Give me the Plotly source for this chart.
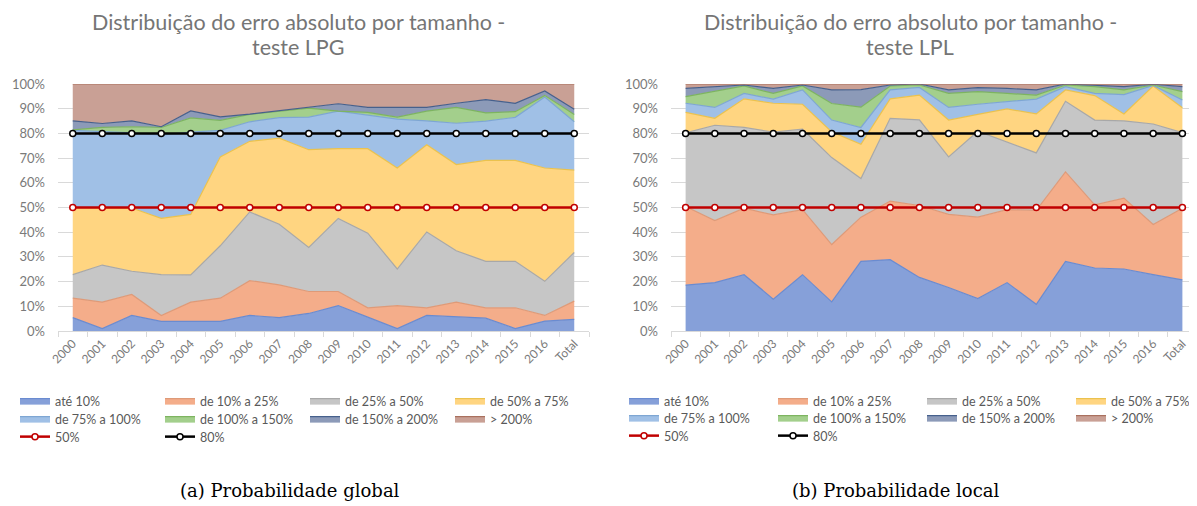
import plotly.graph_objects as go

# categorias
anos = ['2000', '2001', '2002', '2003', '2004', '2005', '2006', '2007', '2008',
        '2009', '2010', '2011', '2012', '2013', '2014', '2015', '2016', 'Total']

faixas = ['até 10%', 'de 10% a 25%', 'de 25% a 50%', 'de 50% a 75%',
          'de 75% a 100%', 'de 100% a 150%', 'de 150% a 200%', '> 200%']

# teste LPG (probabilidade global), % por faixa
lpg_ate10 = [5.4, 1.0, 6.3, 3.9, 3.9, 3.9, 6.3, 5.4, 7.1, 10.3, 5.6, 1.0, 6.3, 5.6, 5.2, 1.0, 4.0, 4.7]
lpg_10a25 = [7.9, 10.7, 8.5, 2.4, 7.8, 9.4, 14.1, 13.3, 8.9, 5.7, 3.8, 9.3, 3.1, 6.1, 4.2, 8.4, 2.3, 7.4]
lpg_25a50 = [9.5, 15.0, 9.4, 16.5, 11.0, 21.2, 27.8, 24.5, 17.8, 29.6, 30.2, 14.8, 30.7, 20.8, 18.8, 18.8, 13.8, 19.7]
lpg_50a75 = [27.2, 23.3, 25.6, 22.8, 24.5, 36.0, 28.6, 34.9, 39.6, 28.2, 34.2, 40.9, 35.3, 34.9, 40.9, 40.9, 45.9, 33.3]
lpg_75a100 = [31.2, 30.7, 30.4, 33.7, 33.3, 10.7, 7.9, 8.3, 13.2, 15.2, 13.7, 19.8, 9.7, 16.7, 15.9, 17.4, 28.7, 19.6]
lpg_100a150 = [0.2, 1.7, 2.5, 3.1, 5.8, 4.1, 3.0, 2.4, 3.6, 0.0, 1.0, 0.8, 3.9, 6.4, 3.3, 2.3, 0.7, 3.0]
lpg_150a200 = [3.7, 1.6, 2.4, 0.3, 2.8, 1.4, 0.1, 0.4, 0.3, 3.0, 2.0, 3.9, 1.5, 1.7, 5.4, 3.4, 1.8, 2.1]
lpg_mais200 = [14.9, 16.0, 14.9, 17.3, 10.9, 13.3, 12.2, 10.8, 9.5, 8.0, 9.5, 9.5, 9.5, 7.8, 6.3, 7.8, 2.8, 10.2]

# teste LPL (probabilidade local), % por faixa
lpl_ate10 = [18.6, 19.6, 22.8, 12.9, 22.8, 11.8, 28.2, 28.9, 21.7, 17.6, 13.1, 19.6, 10.8, 28.2, 25.5, 25.1, 22.8, 20.7]
lpl_10a25 = [31.8, 25.1, 26.9, 34.1, 26.3, 23.2, 17.9, 23.7, 29.1, 29.6, 33.0, 29.5, 38.0, 36.2, 25.6, 28.7, 20.3, 29.0]
lpl_25a50 = [29.8, 38.6, 32.7, 33.5, 32.6, 35.2, 15.6, 33.5, 34.7, 23.3, 34.8, 27.5, 23.3, 28.6, 34.3, 31.3, 40.7, 30.6]
lpl_50a75 = [8.3, 2.8, 11.6, 11.7, 10.1, 10.4, 13.9, 7.9, 10.0, 14.9, 6.8, 13.3, 15.8, 4.6, 9.9, 2.8, 15.4, 10.1]
lpl_75a100 = [3.7, 4.4, 2.2, 1.7, 5.8, 4.8, 6.8, 3.6, 3.1, 5.1, 4.1, 2.9, 6.0, 1.3, 0.9, 7.8, 0.2, 3.1]
lpl_100a150 = [2.7, 6.4, 3.0, 2.3, 1.6, 6.7, 8.2, 1.6, 1.0, 5.7, 5.1, 3.4, 1.6, 0.7, 2.7, 1.9, 0.2, 3.4]
lpl_150a200 = [3.3, 2.0, 0.4, 2.0, 0.4, 5.5, 7.1, 0.4, 0.4, 1.4, 1.6, 2.0, 2.1, 0.4, 0.7, 1.3, 0.3, 2.0]
lpl_mais200 = [1.8, 1.1, 0.4, 1.8, 0.4, 2.4, 2.3, 0.4, 0.0, 2.4, 1.5, 1.8, 2.4, 0.0, 0.4, 1.1, 0.1, 1.1]

# linhas de referencia
linha50 = [50] * len(anos)
linha80 = [80] * len(anos)

cores = ['#86A0D9', '#F4AD8A', '#C6C6C6', '#FFD581', '#A0C0E6', '#A3CF8C', '#8C9AB8', '#C9A095']
bordas = ['#6A8BD0', '#DE9A78', '#A8A8A8', '#EBC24E', '#7EA6D3', '#7DB460', '#46608C', '#A9705E']

lpg = [lpg_ate10, lpg_10a25, lpg_25a50, lpg_50a75, lpg_75a100, lpg_100a150, lpg_150a200, lpg_mais200]
lpl = [lpl_ate10, lpl_10a25, lpl_25a50, lpl_50a75, lpl_75a100, lpl_100a150, lpl_150a200, lpl_mais200]

FONTE = 'Lato'
CINZA = '#7A7A7A'

# a pagina tem margem de 8px no body: tamanho da figura e coordenadas de tela
W, H = 1189, 498
OFF = 8


def px(xs):
    return (xs - OFF) / W


def py(ys):
    return 1 - (ys - OFF) / H


fig = go.Figure()


def add_painel(fig, dados, xa, ya, grupo, legs):
    for k, serie in enumerate(dados):
        fig.add_trace(go.Scatter(
            x=anos, y=serie, name=faixas[k], mode='lines', stackgroup=grupo,
            line=dict(color=bordas[k], width=1.2), fillcolor=cores[k],
            xaxis=xa, yaxis=ya, legend=legs[k // 4]))
    fig.add_trace(go.Scatter(
        x=anos, y=linha50, name='50%', mode='lines+markers',
        line=dict(color='#C00000', width=2.5),
        marker=dict(symbol='circle', size=6, color='white', line=dict(color='#C00000', width=1.5)),
        xaxis=xa, yaxis=ya, legend=legs[2]))
    fig.add_trace(go.Scatter(
        x=anos, y=linha80, name='80%', mode='lines+markers',
        line=dict(color='black', width=2.5),
        marker=dict(symbol='circle', size=6, color='white', line=dict(color='black', width=1.5)),
        xaxis=xa, yaxis=ya, legend=legs[2]))


add_painel(fig, lpg, 'x', 'y', 'lpg', ['legend', 'legend2', 'legend3'])
add_painel(fig, lpl, 'x2', 'y2', 'lpl', ['legend4', 'legend5', 'legend6'])

ydom = [py(331), py(84)]

eixo_x = dict(type='category', range=[-0.5, 17.5], showgrid=False, showline=True,
              linecolor='#D9D9D9', ticks='outside', tickson='boundaries', ticklen=5,
              tickcolor='#D9D9D9', tickangle=-45, automargin=False,
              tickfont=dict(family=FONTE, size=12, color=CINZA))
eixo_y = dict(range=[0, 100], dtick=10, ticksuffix='%', gridcolor='#D9D9D9', showline=False,
              zeroline=False, ticklabelstandoff=12, automargin=False,
              tickfont=dict(family=FONTE, size=13, color=CINZA))


def leg(x, y, largura):
    return dict(orientation='h', x=x, y=y, xref='container', yref='container',
                xanchor='left', yanchor='middle',
                entrywidth=largura, entrywidthmode='pixels', itemwidth=30,
                font=dict(family=FONTE, size=12.5, color='#595959'), bgcolor='rgba(0,0,0,0)',
                traceorder='normal')


fig.update_layout(
    width=W, height=H, margin=dict(l=0, r=0, t=0, b=0, autoexpand=False),
    paper_bgcolor='white', plot_bgcolor='white',
    xaxis=dict(eixo_x, domain=[px(58), px(589)], anchor='y'),
    yaxis=dict(eixo_y, domain=ydom, anchor='x'),
    xaxis2=dict(eixo_x, domain=[px(671), 1.0], anchor='y2'),
    yaxis2=dict(eixo_y, domain=ydom, anchor='x2'),
    legend=leg(px(15), py(401), 100),
    legend2=leg(px(15), py(419), 100),
    legend3=leg(px(15), py(437), 100),
    legend4=leg(px(624), py(401), 104),
    legend5=leg(px(624), py(418), 104),
    legend6=leg(px(624), py(436), 104),
    showlegend=True,
)

# titulos e legendas das figuras
titulos = [('Distribuição do erro absoluto por tamanho -', 'teste LPG', 298),
           ('Distribuição do erro absoluto por tamanho -', 'teste LPL', 910)]
for l1, l2, cx in titulos:
    # primeira linha ancorada no topo para nao sair da pagina
    fig.add_annotation(text=l1, x=px(cx), y=1.0, xref='paper', yref='paper',
                       showarrow=False, xanchor='center', yanchor='top', borderpad=0,
                       font=dict(family=FONTE, size=21.5, color='#757575'))
    fig.add_annotation(text=l2, x=px(cx), y=py(47.5), xref='paper', yref='paper',
                       showarrow=False, xanchor='center', yanchor='middle', borderpad=0,
                       font=dict(family=FONTE, size=21.5, color='#757575'))

for txt, cx in [('(a) Probabilidade global', 290), ('(b) Probabilidade local', 895)]:
    fig.add_annotation(text=txt, x=px(cx), y=py(490), xref='paper', yref='paper',
                       showarrow=False, xanchor='center', yanchor='middle',
                       font=dict(family='DejaVu Serif', size=18, color='black'))

fig.write_html('out.html')
